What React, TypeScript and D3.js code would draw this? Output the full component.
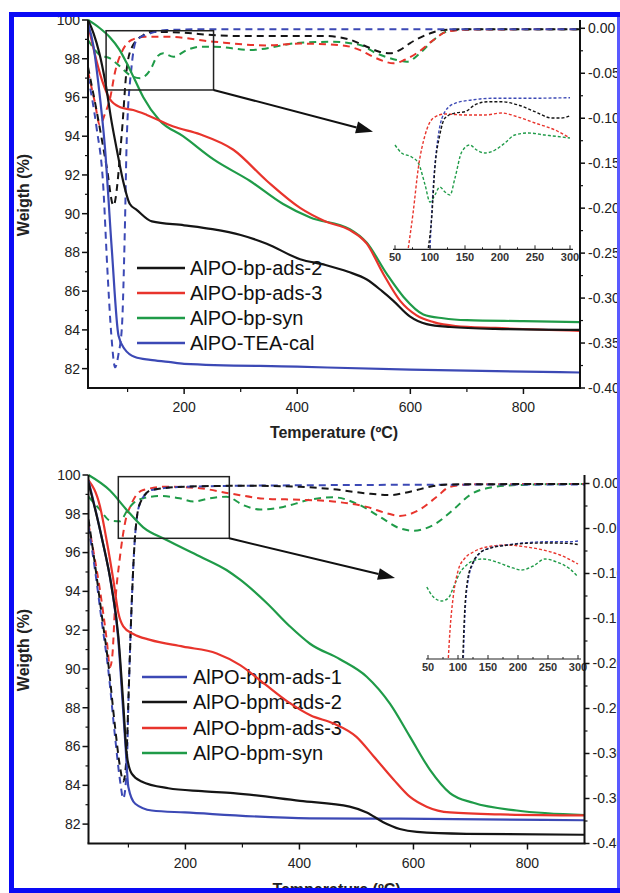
import React from 'react';
import * as d3 from 'd3';

type P = [number, number];

// ---------- TOP PANEL DATA ----------
const topLabels = ['AlPO-bp-ads-2', 'AlPO-bp-ads-3', 'AlPO-bp-syn', 'AlPO-TEA-cal'];

const bpAds2W: P[] = [[30,100],[40,99.3],[50,98.3],[60,96.9],[72,94.7],[81,93.3],[92,91.7],[104,90.5],[116,90.2],[143,89.6],[200,89.4],[250,89.2],[300,88.9],[346,88.45],[405,87.65],[450,87.35],[490,87.0],[523,86.6],[550,86.0],[570,85.5],[599,84.7],[629,84.3],[670,84.15],[750,84.05],[900,84.0]];
const bpAds3W: P[] = [[30,99.8],[45,97.9],[57,96.7],[69,95.9],[87,95.5],[110,95.35],[134,95.1],[181,94.5],[228,94.1],[287,93.3],[346,91.7],[405,90.3],[450,89.6],[493,89.15],[523,88.45],[552,86.9],[582,85.5],[611,84.75],[641,84.4],[680,84.2],[750,84.1],[900,83.95]];
const bpSynW: P[] = [[30,100],[50,99.6],[69,99.1],[85,98.5],[98,97.8],[113,96.9],[128,96.0],[157,94.8],[198,94.0],[252,92.8],[316,91.7],[375,90.5],[423,89.8],[493,89.2],[523,88.5],[558,86.9],[588,85.7],[623,84.8],[658,84.6],[700,84.5],[800,84.45],[900,84.4]];
const teaCalW: P[] = [[30,99.8],[40,98.6],[48,96.8],[60,93.4],[72,88.2],[84,83.7],[95,83.0],[113,82.6],[140,82.45],[172,82.35],[200,82.25],[400,82.1],[600,81.95],[900,81.8]];

const bpAds2D: P[] = [[30,-0.043],[45,-0.091],[63,-0.154],[75,-0.197],[90,-0.115],[98,-0.048],[107,-0.022],[128,-0.0075],[143,-0.004],[200,-0.005],[250,-0.0075],[300,-0.0086],[450,-0.0086],[490,-0.012],[523,-0.0205],[545,-0.026],[564,-0.0278],[582,-0.024],[599,-0.0167],[635,-0.0056],[658,-0.0019],[700,-0.001],[900,-0.001]];
const bpAds3D: P[] = [[30,-0.048],[42,-0.082],[51,-0.1076],[60,-0.095],[69,-0.078],[78,-0.048],[90,-0.026],[107,-0.013],[131,-0.0093],[169,-0.0093],[252,-0.0149],[346,-0.019],[405,-0.017],[480,-0.019],[510,-0.024],[534,-0.0316],[555,-0.037],[570,-0.039],[590,-0.035],[611,-0.0278],[641,-0.013],[664,-0.0038],[700,-0.0015],[900,-0.001]];
const bpSynD: P[] = [[30,-0.013],[51,-0.0297],[69,-0.0334],[87,-0.0427],[104,-0.052],[122,-0.0556],[140,-0.0464],[152,-0.0316],[163,-0.0278],[181,-0.0316],[205,-0.0241],[228,-0.0205],[252,-0.0205],[317,-0.0241],[405,-0.016],[460,-0.015],[511,-0.0186],[540,-0.0278],[576,-0.0352],[594,-0.0371],[617,-0.0278],[641,-0.013],[664,-0.0038],[700,-0.0012],[900,-0.001]];
const teaCalD: P[] = [[30,-0.054],[45,-0.11],[57,-0.176],[64,-0.265],[71,-0.339],[78,-0.377],[84,-0.362],[90,-0.332],[95,-0.228],[98.5,-0.124],[107,-0.043],[116,-0.013],[140,-0.0056],[169,-0.002],[250,-0.001],[900,-0.001]];

const insetTopBlack: P[] = [[97.6,-0.153],[102.4,-0.123],[107,-0.073],[114,-0.04],[121.4,-0.023],[135.7,-0.018],[150,-0.0167],[164,-0.01],[183,-0.0067],[202,-0.0067],[226,-0.01],[250,-0.0167],[274,-0.023],[288,-0.023],[300,-0.0207]];
const insetTopRed: P[] = [[69,-0.153],[76,-0.117],[83.3,-0.073],[93,-0.04],[104.8,-0.023],[121.4,-0.019],[150,-0.02],[178.6,-0.02],[202,-0.018],[226,-0.022],[250,-0.028],[278.6,-0.035],[297.6,-0.042]];
const insetTopGreen: P[] = [[50,-0.05],[59.5,-0.058],[73.8,-0.062],[83.3,-0.068],[93,-0.09],[100,-0.107],[107,-0.1],[114,-0.092],[121.4,-0.097],[128.6,-0.1],[135.7,-0.083],[145.3,-0.057],[157,-0.05],[166.7,-0.055],[178.6,-0.058],[192.9,-0.055],[207,-0.048],[221,-0.04],[240.5,-0.038],[264,-0.04],[288,-0.042],[300,-0.043]];
const insetTopBlue: P[] = [[100,-0.153],[104.8,-0.09],[112,-0.04],[121.4,-0.0167],[135.7,-0.0083],[159.5,-0.005],[188,-0.0033],[235.7,-0.0033],[300,-0.0027]];

const topBox: P[] = [[62, -0.0686], [252, -0.0027]];
const topArrowTip: P = [534, -0.115];

// ---------- BOTTOM PANEL DATA ----------
const botLabels = ['AlPO-bpm-ads-1', 'AlPO-bpm-ads-2', 'AlPO-bpm-ads-3', 'AlPO-bpm-syn'];

const bpmAds1W: P[] = [[30,99.7],[53,96.8],[70.7,94.2],[82,91.6],[90,88.2],[95,86.0],[100,83.9],[112,83.05],[141,82.7],[199,82.6],[418,82.3],[576,82.28],[900,82.2]];
const bpmAds2W: P[] = [[30,99.6],[53,96.8],[70.7,94.2],[82.3,91.7],[91,88.2],[97,85.6],[105.8,84.6],[123,84.2],[170,83.85],[229,83.7],[284,83.6],[401,83.2],[488,82.9],[518,82.6],[547,82.1],[576,81.75],[606,81.6],[693,81.5],[900,81.45]];
const bpmAds3W: P[] = [[30,99.74],[50,98.4],[62,96.6],[73.5,94.6],[82.3,92.9],[91,92.2],[108.6,91.8],[138,91.5],[196,91.15],[255,90.8],[296,90.2],[340,89.2],[380,88.3],[420,87.6],[459,87.2],[500,86.5],[530,85.5],[565,84.3],[594,83.4],[623,82.9],[664,82.6],[752,82.5],[900,82.45]];
const bpmSynW: P[] = [[30,100],[67.7,99.2],[97,98.2],[126,97.3],[167,96.65],[225.6,95.8],[272,95.1],[296,94.6],[342.6,93.4],[383,92.2],[418.5,91.3],[471,90.5],[518,89.6],[559,88.2],[594,86.5],[629,84.8],[664,83.6],[705,83.1],[781,82.7],[900,82.47]];

const bpmAds1D: P[] = [[30,-0.048],[41.4,-0.096],[53,-0.152],[64.7,-0.207],[76.5,-0.281],[85.3,-0.33],[91,-0.35],[97,-0.318],[100,-0.244],[105.8,-0.133],[111.6,-0.059],[120.3,-0.022],[141,-0.0072],[199,-0.0036],[400,-0.002],[900,-0.001]];
const bpmAds2D: P[] = [[30,-0.04],[41.4,-0.09],[53,-0.145],[64.7,-0.2],[76.5,-0.27],[85.3,-0.315],[91,-0.331],[96,-0.31],[100,-0.24],[105.8,-0.133],[111.6,-0.059],[120.3,-0.022],[141,-0.0072],[199,-0.0036],[300,-0.0025],[401,-0.0036],[459,-0.0064],[518,-0.011],[559,-0.0128],[594,-0.0091],[635,-0.0028],[664,-0.001],[900,-0.0005]];
const bpmAds3D: P[] = [[30,-0.045],[40,-0.08],[50,-0.118],[62,-0.174],[67.7,-0.204],[72,-0.19],[76.5,-0.137],[85.3,-0.081],[94,-0.044],[105.8,-0.022],[126,-0.0072],[167,-0.0036],[225.6,-0.0053],[278,-0.011],[342.6,-0.017],[401,-0.018],[459,-0.02],[518,-0.026],[553,-0.033],[576,-0.036],[611,-0.029],[641,-0.0147],[664,-0.0036],[700,-0.001],[900,-0.0005]];
const bpmSynD: P[] = [[30,-0.0147],[50,-0.029],[67.7,-0.041],[85.3,-0.042],[97,-0.031],[108.6,-0.022],[126,-0.0164],[155,-0.0139],[190,-0.0164],[214,-0.02],[243,-0.0164],[272,-0.0147],[301.5,-0.024],[331,-0.029],[371.7,-0.026],[418.5,-0.018],[459,-0.0153],[506,-0.024],[541,-0.037],[576,-0.0498],[600,-0.0524],[635,-0.046],[670,-0.029],[699,-0.0128],[728.5,-0.0053],[781,-0.0017],[900,-0.0005]];

const insetBotBlue: P[] = [[108.9,-0.121],[111.7,-0.076],[117,-0.043],[125.5,-0.026],[136.7,-0.016],[153,-0.011],[181,-0.008],[214.5,-0.0057],[253,-0.0047],[287,-0.0047],[300,-0.004]];
const insetBotBlack: P[] = [[108,-0.121],[111,-0.076],[116,-0.043],[124.5,-0.026],[136,-0.016],[153,-0.0113],[181,-0.0083],[214.5,-0.0063],[253,-0.006],[287,-0.0065],[300,-0.0075]];
const insetBotRed: P[] = [[83.9,-0.121],[86.7,-0.093],[92,-0.06],[100.5,-0.033],[111.7,-0.021],[125.5,-0.015],[147.8,-0.01],[181,-0.008],[214.5,-0.01],[242,-0.013],[270,-0.018],[300,-0.027]];
const insetBotGreen: P[] = [[48,-0.05],[59,-0.06],[73,-0.064],[84,-0.061],[92,-0.051],[103,-0.036],[114.5,-0.028],[128,-0.023],[142,-0.022],[164.5,-0.025],[186.7,-0.03],[206,-0.033],[225.5,-0.029],[245,-0.022],[264.5,-0.025],[286.7,-0.032],[300,-0.04]];

const botBox: P[] = [[82.3, -0.0609], [277, 0.0076]];
const botArrowTip: P = [567.6, -0.105];

// ---------- AXES ----------
const xMajor = [200, 400, 600, 800];
const xMinor = [100, 300, 500, 700];
const yLMajor = [82, 84, 86, 88, 90, 92, 94, 96, 98, 100];
const yLMinor = [83, 85, 87, 89, 91, 93, 95, 97, 99];
const yRMajor = [0, -0.05, -0.1, -0.15, -0.2, -0.25, -0.3, -0.35, -0.4];
const yRMinor = [-0.025, -0.075, -0.125, -0.175, -0.225, -0.275, -0.325, -0.375];
const insetMajor = [50, 100, 150, 200, 250, 300];
const insetMinor = [75, 125, 175, 225, 275];

const C = { black: '#151515', red: '#e8342c', green: '#1f9b48', blue: '#3c49b5' };
const FONT = '"Liberation Sans", Arial, Helvetica, sans-serif';

interface Cfg {
  id: string;
  left: number; right: number; top: number; bottom: number; zeroR: number;
  solid: { data: P[]; color: string }[];
  dashed: { data: P[]; color: string }[];
  legend: { labels: string[]; colors: string[]; lx0: number; lx1: number; tx: number; ys: number[] };
  box: P[]; tip: P;
  inset: { xr: [number, number]; axisY: number; topPx: number; yMin: number; series: { data: P[]; color: string }[] };
  yTitleY: number; xTitleY: number;
}

const fmtR = (v: number) => (Math.abs(v) < 1e-9 ? '0.00' : '-' + Math.abs(v).toFixed(2));

function Panel({ c }: { c: Cfg }) {
  const x = d3.scaleLinear().domain([30, 900]).range([c.left, c.right]);
  const yL = d3.scaleLinear().domain([81, 100]).range([c.bottom, c.top]);
  const yR = d3.scaleLinear().domain([-0.4, 0]).range([c.bottom, c.zeroR]);
  const lineL = d3.line<P>().x(d => x(d[0])).y(d => yL(d[1])).curve(d3.curveMonotoneX);
  const lineR = d3.line<P>().x(d => x(d[0])).y(d => yR(d[1])).curve(d3.curveMonotoneX);
  const ins = c.inset;
  const xi = d3.scaleLinear().domain([50, 300]).range(ins.xr);
  const yi = d3.scaleLinear().domain([ins.yMin, 0]).range([ins.axisY, ins.topPx]);
  const lineI = d3.line<P>().x(d => xi(d[0])).y(d => yi(d[1])).curve(d3.curveMonotoneX);

  const bx0 = x(c.box[0][0]), bx1 = x(c.box[1][0]);
  const by0 = yR(c.box[1][1]), by1 = yR(c.box[0][1]);
  const ax0 = bx1, ay0 = by1;
  const ax1 = x(c.tip[0]), ay1 = yR(c.tip[1]);
  const ang = Math.atan2(ay1 - ay0, ax1 - ax0);
  const hl = 17, hw = 6;
  const bxp = ax1 - hl * Math.cos(ang), byp = ay1 - hl * Math.sin(ang);
  const head = [
    [ax1, ay1],
    [bxp + hw * Math.sin(ang), byp - hw * Math.cos(ang)],
    [bxp - hw * Math.sin(ang), byp + hw * Math.cos(ang)],
  ].map(p => p.join(',')).join(' ');

  const midX = (c.left + c.right) / 2;
  return (
    <g>
      <defs>
        <clipPath id={c.id + 'clip'}>
          <rect x={c.left} y={c.top - 2} width={c.right - c.left} height={c.bottom - c.top + 2} />
        </clipPath>
        <clipPath id={c.id + 'iclip'}>
          <rect x={ins.xr[0] - 5} y={ins.topPx - 15} width={ins.xr[1] - ins.xr[0] + 12} height={ins.axisY - ins.topPx + 15} />
        </clipPath>
      </defs>
      {/* legend */}
      {c.legend.labels.map((l, i) => (
        <g key={l}>
          <line x1={c.legend.lx0} x2={c.legend.lx1} y1={c.legend.ys[i]} y2={c.legend.ys[i]} stroke={c.legend.colors[i]} strokeWidth={2.5} />
          <text x={c.legend.tx} y={c.legend.ys[i]} dy="0.36em" fontSize={20} fill="#111" fontFamily={FONT}>{l}</text>
        </g>
      ))}
      <g clipPath={`url(#${c.id}clip)`}>
        {c.dashed.map((s, i) => (
          <path key={'d' + i} d={lineR(s.data) || ''} fill="none" stroke={s.color} strokeWidth={2} strokeDasharray="7,5" />
        ))}
        {c.solid.map((s, i) => (
          <path key={'s' + i} d={lineL(s.data) || ''} fill="none" stroke={s.color} strokeWidth={2.2} />
        ))}
      </g>
      {/* zoom box and arrow */}
      <rect x={bx0} y={by0} width={bx1 - bx0} height={by1 - by0} fill="none" stroke="#222" strokeWidth={1.5} />
      <line x1={ax0} y1={ay0} x2={bxp} y2={byp} stroke="#111" strokeWidth={2} />
      <polygon points={head} fill="#111" />
      {/* inset */}
      <g clipPath={`url(#${c.id}iclip)`}>
        {ins.series.map((s, i) => (
          <path key={'i' + i} d={lineI(s.data) || ''} fill="none" stroke={s.color} strokeWidth={1.4} strokeDasharray="3,2" />
        ))}
      </g>
      <line x1={xi(50) - 2} x2={xi(300) + 3} y1={ins.axisY} y2={ins.axisY} stroke="#222" strokeWidth={1.2} />
      {insetMajor.map(v => (
        <g key={'im' + v}>
          <line x1={xi(v)} x2={xi(v)} y1={ins.axisY} y2={ins.axisY - 4} stroke="#222" strokeWidth={1} />
          <text x={xi(v)} y={ins.axisY + 12} textAnchor="middle" fontSize={11} fontWeight="bold" fill="#333" fontFamily={FONT}>{v}</text>
        </g>
      ))}
      {insetMinor.map(v => (
        <line key={'in' + v} x1={xi(v)} x2={xi(v)} y1={ins.axisY} y2={ins.axisY - 2} stroke="#222" strokeWidth={1} />
      ))}
      {/* axes */}
      <line x1={c.left} x2={c.left} y1={c.top} y2={c.bottom} stroke="#111" strokeWidth={2} />
      <line x1={c.right} x2={c.right} y1={c.top} y2={c.bottom} stroke="#111" strokeWidth={2} />
      <line x1={c.left - 1} x2={c.right + 1} y1={c.bottom} y2={c.bottom} stroke="#111" strokeWidth={2} />
      {yLMajor.map(v => (
        <g key={'yl' + v}>
          <line x1={c.left} x2={c.left - 6} y1={yL(v)} y2={yL(v)} stroke="#111" strokeWidth={1.5} />
          <text x={c.left - 8} y={yL(v)} dy="0.35em" textAnchor="end" fontSize={14} fill="#222" fontFamily={FONT}>{v}</text>
        </g>
      ))}
      {yLMinor.map(v => (
        <line key={'ylm' + v} x1={c.left} x2={c.left - 3} y1={yL(v)} y2={yL(v)} stroke="#111" strokeWidth={1.2} />
      ))}
      {yRMajor.map(v => (
        <g key={'yr' + v}>
          <line x1={c.right} x2={c.right + 5} y1={yR(v)} y2={yR(v)} stroke="#111" strokeWidth={1.5} />
          <text x={c.right + 8} y={yR(v)} dy="0.35em" textAnchor="start" fontSize={14} fill="#222" fontFamily={FONT}>{fmtR(v)}</text>
        </g>
      ))}
      {yRMinor.map(v => (
        <line key={'yrm' + v} x1={c.right} x2={c.right + 3} y1={yR(v)} y2={yR(v)} stroke="#111" strokeWidth={1.2} />
      ))}
      {xMajor.map(v => (
        <g key={'x' + v}>
          <line x1={x(v)} x2={x(v)} y1={c.bottom} y2={c.bottom + 6} stroke="#111" strokeWidth={1.5} />
          <text x={x(v)} y={c.bottom + 24} textAnchor="middle" fontSize={14} fill="#222" fontFamily={FONT}>{v}</text>
        </g>
      ))}
      {xMinor.map(v => (
        <line key={'xm' + v} x1={x(v)} x2={x(v)} y1={c.bottom} y2={c.bottom + 4} stroke="#111" strokeWidth={1.2} />
      ))}
      <text x={midX} y={c.xTitleY} textAnchor="middle" fontSize={16} fontWeight="bold" fill="#222" fontFamily={FONT}>Temperature (ºC)</text>
      <text transform={`translate(23,${c.yTitleY}) rotate(-90)`} textAnchor="middle" dy="0.35em" fontSize={16} fontWeight="bold" fill="#222" fontFamily={FONT}>Weigth (%)</text>
    </g>
  );
}

const topCfg: Cfg = {
  id: 'top', left: 88, right: 580, top: 20, bottom: 388, zeroR: 28.3,
  solid: [
    { data: bpSynW, color: C.green },
    { data: bpAds3W, color: C.red },
    { data: bpAds2W, color: C.black },
    { data: teaCalW, color: C.blue },
  ],
  dashed: [
    { data: bpSynD, color: C.green },
    { data: bpAds3D, color: C.red },
    { data: bpAds2D, color: C.black },
    { data: teaCalD, color: C.blue },
  ],
  legend: { labels: topLabels, colors: [C.black, C.red, C.green, C.blue], lx0: 137, lx1: 185, tx: 190, ys: [268, 293, 318, 343] },
  box: topBox, tip: topArrowTip,
  inset: {
    xr: [395, 570], axisY: 249.3, topPx: 95, yMin: -0.1543,
    series: [
      { data: insetTopGreen, color: C.green },
      { data: insetTopRed, color: C.red },
      { data: insetTopBlue, color: C.blue },
      { data: insetTopBlack, color: C.black },
    ],
  },
  yTitleY: 195, xTitleY: 438,
};

const botCfg: Cfg = {
  id: 'bot', left: 88.5, right: 584.5, top: 475, bottom: 843.5, zeroR: 483.5,
  solid: [
    { data: bpmSynW, color: C.green },
    { data: bpmAds3W, color: C.red },
    { data: bpmAds1W, color: C.blue },
    { data: bpmAds2W, color: C.black },
  ],
  dashed: [
    { data: bpmSynD, color: C.green },
    { data: bpmAds3D, color: C.red },
    { data: bpmAds1D, color: C.blue },
    { data: bpmAds2D, color: C.black },
  ],
  legend: { labels: botLabels, colors: [C.blue, C.black, C.red, C.green], lx0: 142, lx1: 187, tx: 193, ys: [677, 702, 728, 753] },
  box: botBox, tip: botArrowTip,
  inset: {
    xr: [428, 578], axisY: 659, topPx: 537, yMin: -0.122,
    series: [
      { data: insetBotGreen, color: C.green },
      { data: insetBotRed, color: C.red },
      { data: insetBotBlue, color: C.blue },
      { data: insetBotBlack, color: C.black },
    ],
  },
  yTitleY: 650, xTitleY: 894.5,
};

export default function App() {
  return (
    <svg width={620} height={893} style={{ position: 'absolute', left: 0, top: 0, background: '#fff' }} fontFamily={FONT}>
      <rect x={0} y={0} width={620} height={893} fill="#fff" />
      <Panel c={topCfg} />
      <Panel c={botCfg} />
      {/* blue frame */}
      <rect x={617} y={12} width={3} height={881} fill="#5a5aff" />
      <rect x={9} y={12} width={611} height={5} fill="#0a0af5" />
      <rect x={9} y={12} width={5} height={881} fill="#0a0af5" />
      <rect x={9} y={888} width={611} height={5} fill="#0a0af5" />
    </svg>
  );
}
